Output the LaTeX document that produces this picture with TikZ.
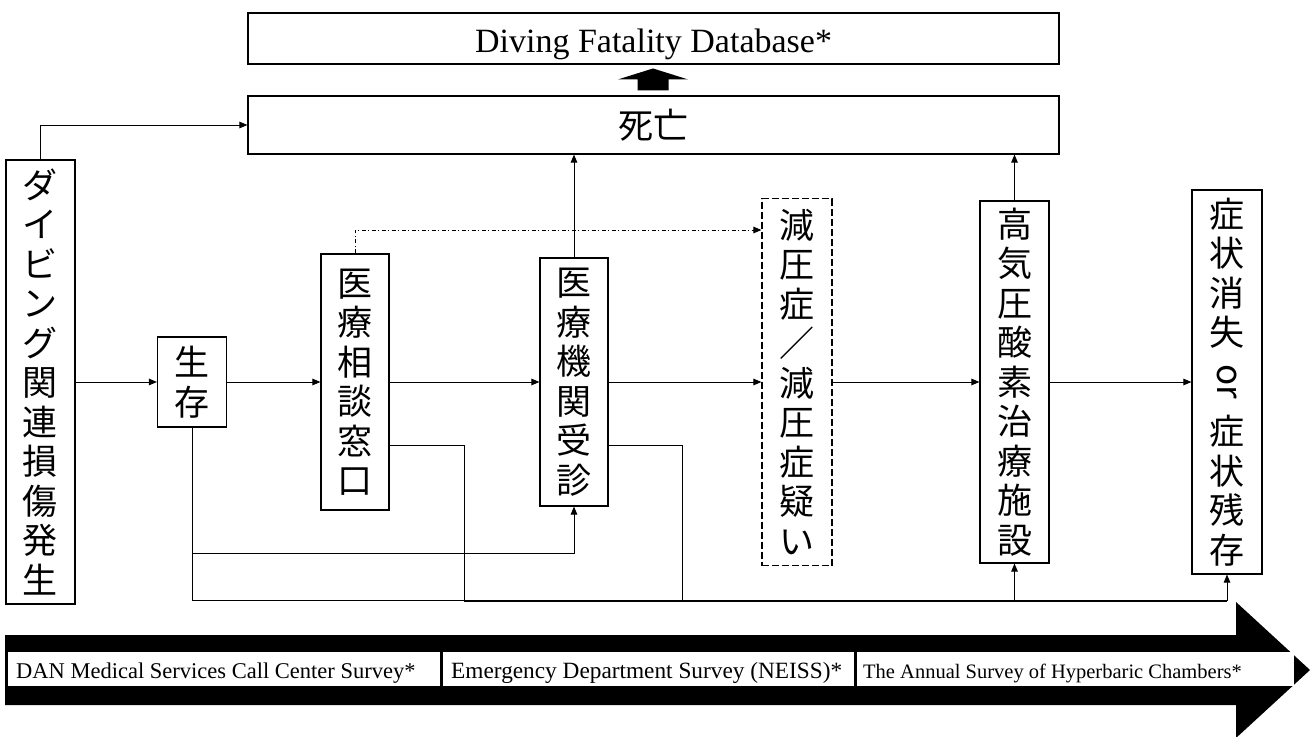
\documentclass[tikz,border=0pt]{standalone}
\usepackage{fontspec}
\usepackage{graphicx}
\setmainfont{Liberation Serif}
\newfontfamily\jp{Noto Sans CJK JP}
\usetikzlibrary{arrows.meta}
\begin{document}
\begin{tikzpicture}[x=1pt,y=-1pt,
  box/.style={draw,line width=1.1pt,inner sep=0pt,align=center},
  vcol/.style={box,minimum width=69pt,font={\jp\fontsize{35}{39.5}\selectfont}},
  conn/.style={line width=1pt},
  arr/.style={conn,-{Triangle[length=8pt,width=6.5pt]}},
  dashdot/.style={dash pattern=on 4pt off 2pt on 1.5pt off 2.5pt},
  survey/.style={fill=white,inner ysep=0pt,align=flush left,minimum height=34pt,anchor=north west,
    text height=22pt,text depth=3pt,font={\fontsize{22.5}{24}\selectfont}},
]
\fill[white] (0,0) rectangle (1314,736);
\useasboundingbox (0,0) rectangle (1314,736);

% top boxes
\node[box,minimum width=811pt,minimum height=51pt,text height=30pt,text depth=3pt,
  font={\fontsize{34}{36}\selectfont}] (db) at (653.5,38.5) {Diving Fatality Database*};
\node[box,minimum width=811pt,minimum height=58pt,font={\jp\fontsize{35}{40}\selectfont}] (death) at (653.5,125) {死亡};

% thick up arrow
\fill (death.north) ++(-16,-5) -- ++(0,-11) -- ++(-19.5,0) -- ++(35,-11) -- ++(35,11) -- ++(-19.5,0) -- ++(0,11) -- cycle;

% vertical boxes
\node[vcol,minimum height=444pt] (dive) at (40.5,382) {ダ\\イ\\ビ\\ン\\グ\\関\\連\\損\\傷\\発\\生};
\node[vcol,minimum height=90pt] (surv) at (192,382) {生\\存};
\node[vcol,minimum width=68pt,minimum height=256pt] (cons) at (355,382) {医\\療\\相\\談\\窓\\口};
\node[vcol,minimum width=68pt,minimum height=248pt] (hosp) at (574,382) {医\\療\\機\\関\\受\\診};
\node[vcol,minimum width=70pt,minimum height=367pt,dash pattern=on 7pt off 3pt] (dcs) at (797,382) {減\\圧\\症\\／\\減\\圧\\症\\疑\\い};
\node[vcol,minimum height=362pt] (hbo) at (1014.5,382) {高\\気\\圧\\酸\\素\\治\\療\\施\\設};
\node[vcol,minimum width=70pt,minimum height=384pt] (sym) at (1227,382)
  {症\\状\\消\\失\\[10pt]\smash{\raisebox{4pt}{\rotatebox[origin=c]{-90}{or}}}\\[10pt]症\\状\\残\\存};

% helper coordinates
\coordinate (dashy) at (0,230);
\coordinate (boty) at (0,600);
\coordinate (boty2) at (0,601.5);
\coordinate (midy) at (0,553);
\coordinate (k1) at (464,445);
\coordinate (k2) at (682,445);

% main flow
\draw[arr] (dive) -- (surv);
\draw[arr] (surv) -- (cons);
\draw[arr] (cons) -- (hosp);
\draw[arr] (hosp) -- (dcs);
\draw[arr] (dcs) -- (hbo);
\draw[arr] (hbo) -- (sym);

% to death
\draw[arr] (dive.north) |- (death.west);
\draw[arr] (hosp.north) -- (hosp.north |- death.south);
\draw[arr] (hbo.north) -- (hbo.north |- death.south);
\draw[arr,dashdot] (cons.north) |- (dcs.west |- dashy);

% lower routing
\draw[arr] (surv.south) -- (surv.south |- boty) -| (sym.south);
\draw[arr] (surv.south |- midy) -| (hosp.south);
\draw[arr] (hbo.south |- boty) -- (hbo.south);
\draw[conn] (cons.east |- k1) -- (k1) -- (k1 |- boty2) -- (sym.south |- boty2);
\draw[conn] (hosp.east |- k2) -- (k2) -- (k2 |- boty);

% bottom timeline arrow
\fill (5,635) -- (1236,635) -- (1236,602) -- (1310,670) -- (1236,738) -- (1236,705) -- (5,705) -- cycle;
\node[survey,inner xsep=8pt,text width=416pt] (s1) at (8,652) {DAN Medical Services Call Center Survey*};
\node[survey,inner xsep=8pt,text width=395pt,font={\fontsize{23.3}{25}\selectfont}] (s2) at (443,652) {Emergency Department Survey (NEISS)*};
\node[survey,inner xsep=6pt,text width=425pt,font={\fontsize{20.5}{22}\selectfont}] (s3) at (857,652) {The Annual Survey of Hyperbaric Chambers*};
\end{tikzpicture}
\end{document}
